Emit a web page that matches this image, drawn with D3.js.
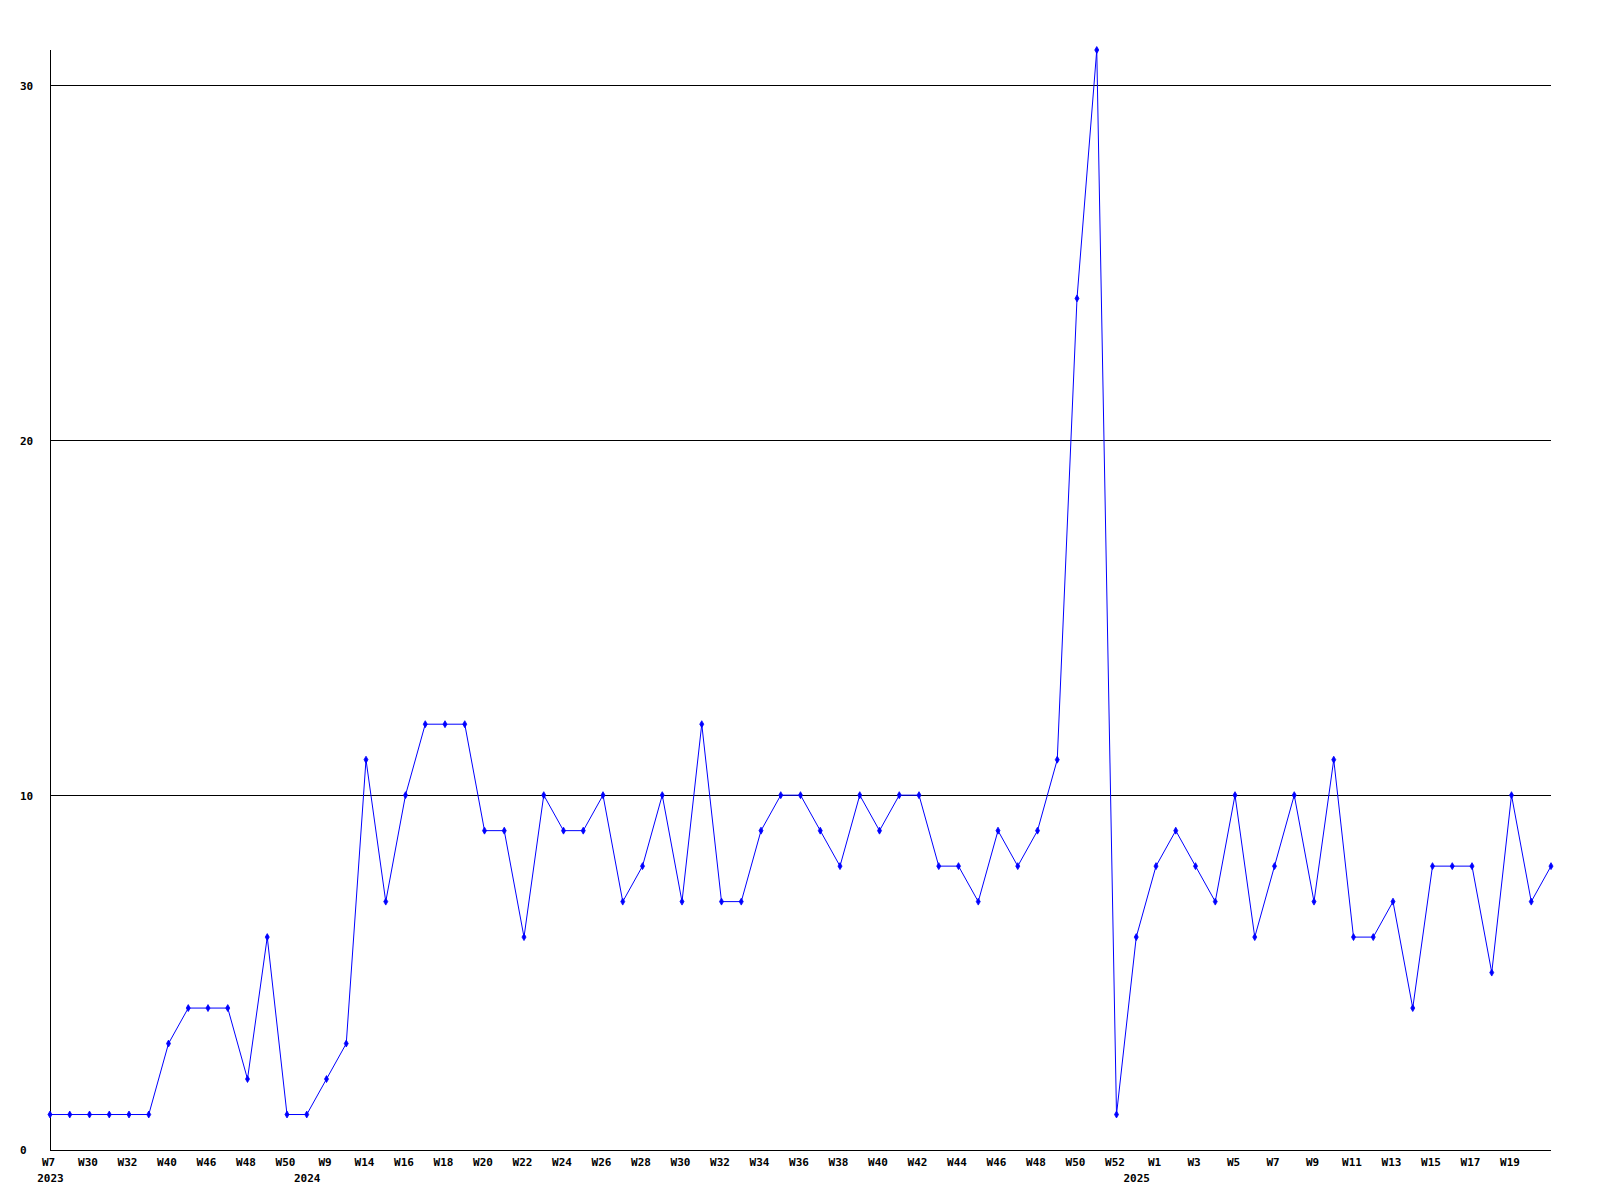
<!DOCTYPE html>
<html>
<head>
<meta charset="utf-8">
<script src="https://cdn.jsdelivr.net/npm/d3@7"></script>
<style>
  html, body { margin: 0; padding: 0; background: #fff; }
  svg { display: block; }
  text { font-family: "DejaVu Sans Mono", "Liberation Mono", monospace; font-weight: bold; font-size: 11px; fill: #000; }
</style>
</head>
<body>
<svg id="chart" width="1600" height="1200"></svg>
<script>
// ---- data ----
const weeks = [
  "W7","W29","W30","W31","W32","W33","W40","W45","W46","W47",
  "W48","W49","W50","W1","W9","W13","W14","W15","W16","W17",
  "W18","W19","W20","W21","W22","W23","W24","W25","W26","W27",
  "W28","W29","W30","W31","W32","W33","W34","W35","W36","W37",
  "W38","W39","W40","W41","W42","W43","W44","W45","W46","W47",
  "W48","W49","W50","W51","W52","W0","W1","W2","W3","W4",
  "W5","W6","W7","W8","W9","W10","W11","W12","W13","W14",
  "W15","W16","W17","W18","W19","W20","W21"
];
const years = weeks.map(() => "");
years[0] = "2023"; years[13] = "2024"; years[55] = "2025";

const values = [
  1,1,1,1,1,1,3,4,4,4,
  2,6,1,1,2,3,11,7,10,12,
  12,12,9,9,6,10,9,9,10,7,
  8,10,7,12,7,7,9,10,10,9,
  8,10,9,10,10,8,8,7,9,8,
  9,11,24,31,1,6,8,9,8,7,
  10,6,8,10,7,11,6,6,7,4,
  8,8,8,5,10,7,8
];
const yTicks = [0, 10, 20, 30];

// ---- chart ----
const svg = d3.select("#chart");
const mLeft = 50, mRight = 1551, mTop = 50, mBottom = 1150;
const idx = d3.range(values.length);

const x = d3.scalePoint().domain(idx).range([mLeft, mRight]);
const y = d3.scaleLinear().domain([0, d3.max(values)]).range([mBottom, mTop]);

// grid lines
svg.append("g").selectAll("line")
  .data(yTicks.filter(d => d > 0))
  .join("line")
  .attr("x1", mLeft).attr("x2", mRight)
  .attr("y1", d => Math.round(y(d)) + 0.5).attr("y2", d => Math.round(y(d)) + 0.5)
  .attr("stroke", "#000").attr("stroke-width", 1).attr("shape-rendering", "crispEdges");

// axes lines
svg.append("line").attr("x1", mLeft + 0.5).attr("x2", mLeft + 0.5).attr("y1", mTop).attr("y2", mBottom)
  .attr("stroke", "#000").attr("shape-rendering", "crispEdges");
svg.append("line").attr("x1", mLeft).attr("x2", mRight).attr("y1", mBottom + 0.5).attr("y2", mBottom + 0.5)
  .attr("stroke", "#000").attr("shape-rendering", "crispEdges");

// y labels
const yAxis = d3.axisLeft(y).tickValues(yTicks).tickSize(0).tickFormat(d3.format("d"));
const gy = svg.append("g").attr("transform", `translate(${mLeft},0)`).call(yAxis);
gy.select(".domain").remove();
gy.selectAll("text").attr("x", 20 - mLeft).attr("text-anchor", "start")
  .attr("dy", "0.35em").attr("font-family", null).attr("font-size", null).attr("fill", "#000");

// x week labels (every other week; the last point is left unlabeled)
const xAxis = d3.axisBottom(x)
  .tickValues(idx.filter(i => i % 2 === 0 && i < values.length - 1))
  .tickSize(0).tickFormat(i => weeks[i]);
const gx = svg.append("g").attr("transform", `translate(-2,${mBottom})`).call(xAxis);
gx.select(".domain").remove();
gx.selectAll("text").attr("y", 16).attr("dy", null)
  .attr("font-family", null).attr("font-size", null).attr("fill", "#000");

// year labels
const yrAxis = d3.axisBottom(x).tickValues(idx.filter(i => years[i] !== "")).tickSize(0).tickFormat(i => years[i]);
const gyr = svg.append("g").attr("transform", `translate(0,${mBottom})`).call(yrAxis);
gyr.select(".domain").remove();
gyr.selectAll("text").attr("y", 32).attr("dy", null)
  .attr("font-family", null).attr("font-size", null).attr("fill", "#000");

// line
const line = d3.line().x((d, i) => x(i)).y(d => y(d));
svg.append("path").datum(values).attr("d", line)
  .attr("fill", "none").attr("stroke", "#0000ff").attr("stroke-width", 1);

// markers
svg.append("g").selectAll("path")
  .data(values)
  .join("path")
  .attr("transform", (d, i) => `translate(${x(i)},${y(d)})`)
  .attr("d", d3.symbol().type(d3.symbolDiamond).size(14))
  .attr("fill", "#0000ff").attr("stroke", "#0000ff").attr("stroke-width", 0.8);
</script>
</body>
</html>
